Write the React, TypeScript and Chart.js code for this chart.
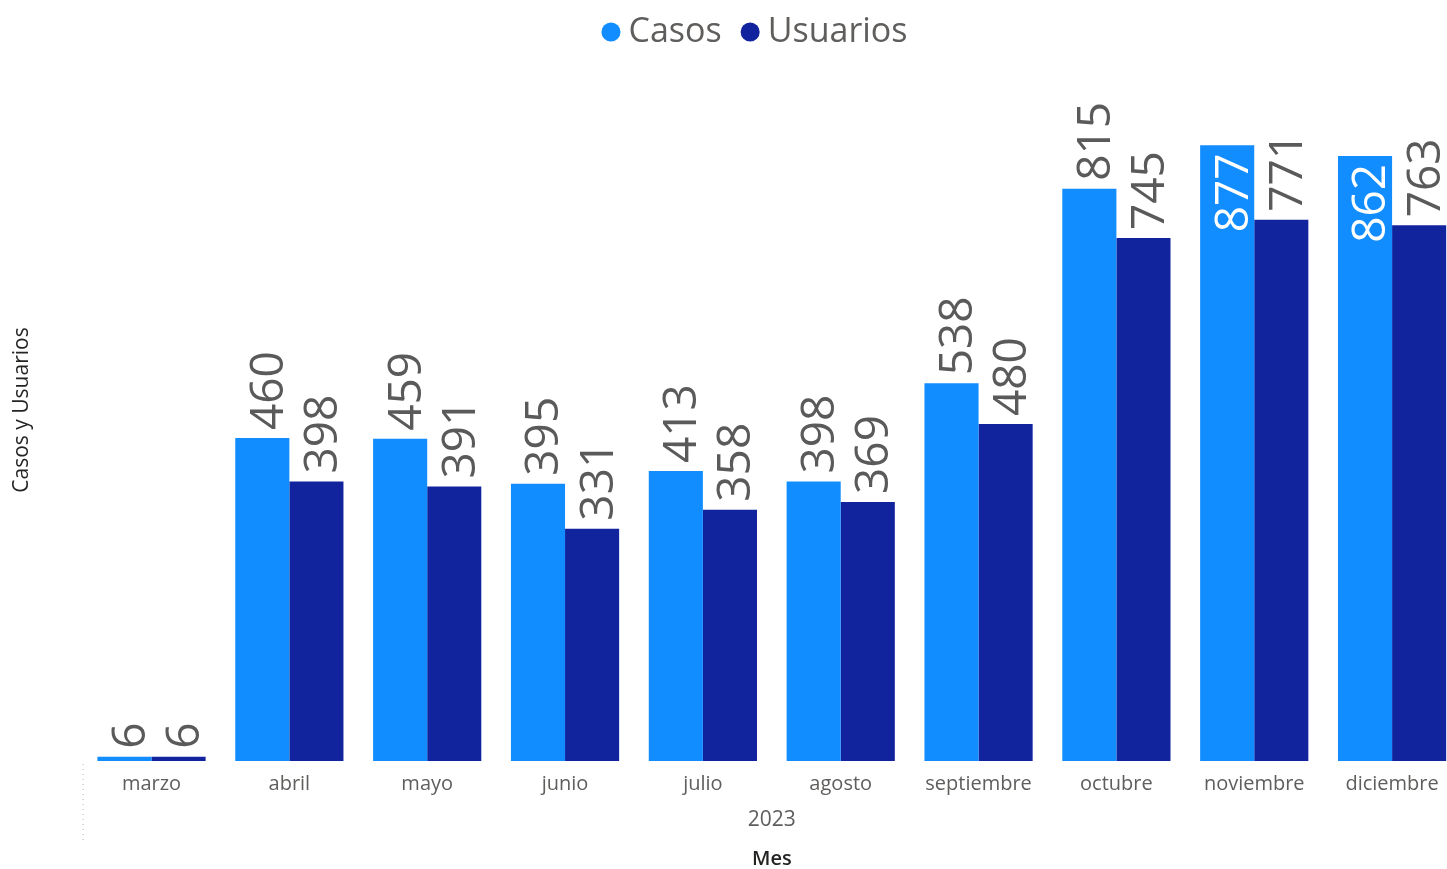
import React, { useEffect, useRef } from 'react';
import { Chart, registerables } from 'chart.js';

Chart.register(...registerables);

const months = ['marzo', 'abril', 'mayo', 'junio', 'julio', 'agosto', 'septiembre', 'octubre', 'noviembre', 'diciembre'];
const casos = [6, 460, 459, 395, 413, 398, 538, 815, 877, 862];
const usuarios = [6, 398, 391, 331, 358, 369, 480, 745, 771, 763];
const yearLabels = ['2023'];
const seriesNames = ['Casos', 'Usuarios'];
const seriesColors = ['#118DFF', '#12239E'];
const yAxisTitle = 'Casos y Usuarios';
const xAxisTitle = 'Mes';
const Y_MAX = 1000;

const FONT = "'Open Sans', 'Noto Sans', sans-serif";
const LABEL_SIZE = 46;

const barLabels = {
  id: 'barLabels',
  afterDatasetsDraw(chart: any) {
    const ctx = chart.ctx;
    const area = chart.chartArea;
    chart.data.datasets.forEach((ds: any, di: number) => {
      const meta = chart.getDatasetMeta(di);
      meta.data.forEach((bar: any, i: number) => {
        const text = String(ds.data[i]);
        ctx.save();
        ctx.font = `400 ${LABEL_SIZE}px ${FONT}`;
        const w = ctx.measureText(text).width;
        const gap = 8;
        const inside = bar.y - gap - w < area.top + 35;
        const bx = bar.x + 4 + 0.357 * LABEL_SIZE;
        ctx.textBaseline = 'alphabetic';
        if (inside) {
          ctx.translate(bx, bar.y + gap);
          ctx.rotate(-Math.PI / 2);
          ctx.textAlign = 'right';
          ctx.fillStyle = '#FFFFFF';
        } else {
          ctx.translate(bx, bar.y - gap);
          ctx.rotate(-Math.PI / 2);
          ctx.textAlign = 'left';
          ctx.fillStyle = '#5A5A5A';
        }
        ctx.fillText(text, 0, 0);
        ctx.restore();
      });
    });
  },
  afterDraw(chart: any) {
    const ctx = chart.ctx;
    const area = chart.chartArea;
    const x2 = chart.scales.x2;
    ctx.save();
    ctx.strokeStyle = '#B0B0B0';
    ctx.lineWidth = 1;
    ctx.setLineDash([1, 4]);
    ctx.beginPath();
    ctx.moveTo(area.left + 0.5, area.bottom + 3);
    ctx.lineTo(area.left + 0.5, x2.top + 33);
    ctx.stroke();
    ctx.restore();
  },
};

export default function App() {
  const ref = useRef<HTMLCanvasElement | null>(null);

  useEffect(() => {
    if (!ref.current) return;
    const chart = new Chart(ref.current, {
      type: 'bar',
      data: {
        labels: months,
        datasets: [
          { label: seriesNames[0], data: casos, backgroundColor: seriesColors[0], xAxisID: 'x', yAxisID: 'y' },
          { label: seriesNames[1], data: usuarios, backgroundColor: seriesColors[1], xAxisID: 'x', yAxisID: 'y' },
        ],
      },
      options: {
        responsive: false,
        animation: false,
        layout: { padding: { top: -13, right: 47, left: 57, bottom: 0 } },
        datasets: { bar: { categoryPercentage: 0.785, barPercentage: 1.0 } },
        plugins: {
          legend: {
            position: 'top',
            align: 'center',
            fullSize: true,
            labels: {
              usePointStyle: true,
              pointStyle: 'circle',
              boxWidth: 1,
              boxHeight: 13.5,
              padding: 28,
              color: '#605E5C',
              font: { family: FONT, size: 34 },
            },
          },
          tooltip: { enabled: false },
        },
        scales: {
          x: {
            type: 'category',
            position: 'bottom',
            offset: true,
            grid: { display: false, drawTicks: false },
            border: { display: false },
            ticks: { color: '#605E5C', font: { family: FONT, size: 20 }, padding: 11, maxRotation: 0, autoSkip: false },
          },
          y: {
            type: 'linear',
            position: 'left',
            min: 0,
            max: Y_MAX,
            grid: { display: false, drawTicks: false },
            border: { display: false },
            ticks: { display: false },
            title: {
              display: true,
              text: yAxisTitle,
              color: '#252423',
              font: { family: FONT, size: 21 },
              padding: { top: -47.6, bottom: 48 },
            },
          },
          x2: {
            type: 'category',
            axis: 'x',
            position: 'bottom',
            labels: yearLabels,
            offset: true,
            grid: { display: false, drawTicks: false },
            border: { display: false },
            ticks: { color: '#605E5C', font: { family: FONT, size: 21 }, padding: 0 },
            title: {
              display: true,
              text: xAxisTitle,
              color: '#252423',
              font: { family: FONT, size: 20, weight: '600', lineHeight: 1.0 },
              padding: { top: 16.8, bottom: 0 },
            },
          },
        },
      } as any,
      plugins: [barLabels],
    });
    return () => chart.destroy();
  }, []);

  return (
    <div style={{ position: 'fixed', left: 0, top: 0, width: 1447, height: 869, overflow: 'hidden', background: '#fff' }}>
      <canvas ref={ref} width={1508} height={869} style={{ display: 'block' }} />
    </div>
  );
}
